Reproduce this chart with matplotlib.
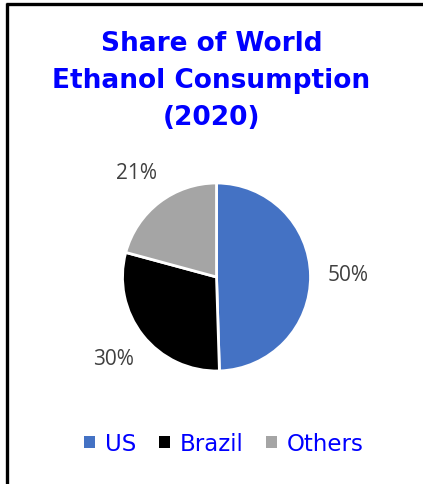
import matplotlib.pyplot as plt
from matplotlib.lines import Line2D

# Share of world ethanol consumption, 2020 (percent)
regions = ['US', 'Brazil', 'Others']
shares = [50, 30, 21]
colors = ['#4472C4', '#000000', '#A5A5A5']

W, H = 423, 485
fig = plt.figure(figsize=(W / 100, H / 100), dpi=100)
fig.patch.set_facecolor('white')

# frame lines along the top and left edges
fig.add_artist(Line2D([6 / W, 1.0], [1 - 5 / H, 1 - 5 / H], color='black', lw=2.4,
                      solid_capstyle='butt', transform=fig.transFigure))
fig.add_artist(Line2D([7 / W, 7 / W], [0.0, 1 - 4 / H], color='black', lw=2.4,
                      solid_capstyle='butt', transform=fig.transFigure))

fig.text(0.5, 1 - 81 / H, 'Share of World\nEthanol Consumption\n(2020)',
         ha='center', va='center', color='#0000FF', fontsize=19,
         fontweight='bold', family='DejaVu Sans', linespacing=1.55)

# pie centred at (216, 278) px, radius 94 px
cx, cy, r = 216.5, 278, 94
ax = fig.add_axes([(cx - r) / W, (H - cy - r) / H, 2 * r / W, 2 * r / H])
labels = ['%d%%' % s for s in shares]
wedges, texts = ax.pie(shares, colors=colors, startangle=90, counterclock=False,
                       labels=labels, labeldistance=1.40,
                       wedgeprops=dict(edgecolor='white', linewidth=2),
                       textprops=dict(color='#404040', fontsize=15, family='Open Sans'))
for t in texts:
    t.set_ha('center')
    t.set_va('center')
ax.set_xlim(-1, 1)
ax.set_ylim(-1, 1)
ax.axis('off')

leg = fig.legend(wedges, regions, loc='center', bbox_to_anchor=(0.53, 1 - 445 / H),
                 ncol=3, frameon=False,
                 prop=dict(family='DejaVu Sans', size=16.5),
                 handlelength=0.45, handleheight=0.45, handletextpad=0.45,
                 columnspacing=1.0)
for t in leg.get_texts():
    t.set_color('#0000FF')
for h in leg.legend_handles:
    h.set_edgecolor('none')

fig.savefig('out.png', dpi=100)
